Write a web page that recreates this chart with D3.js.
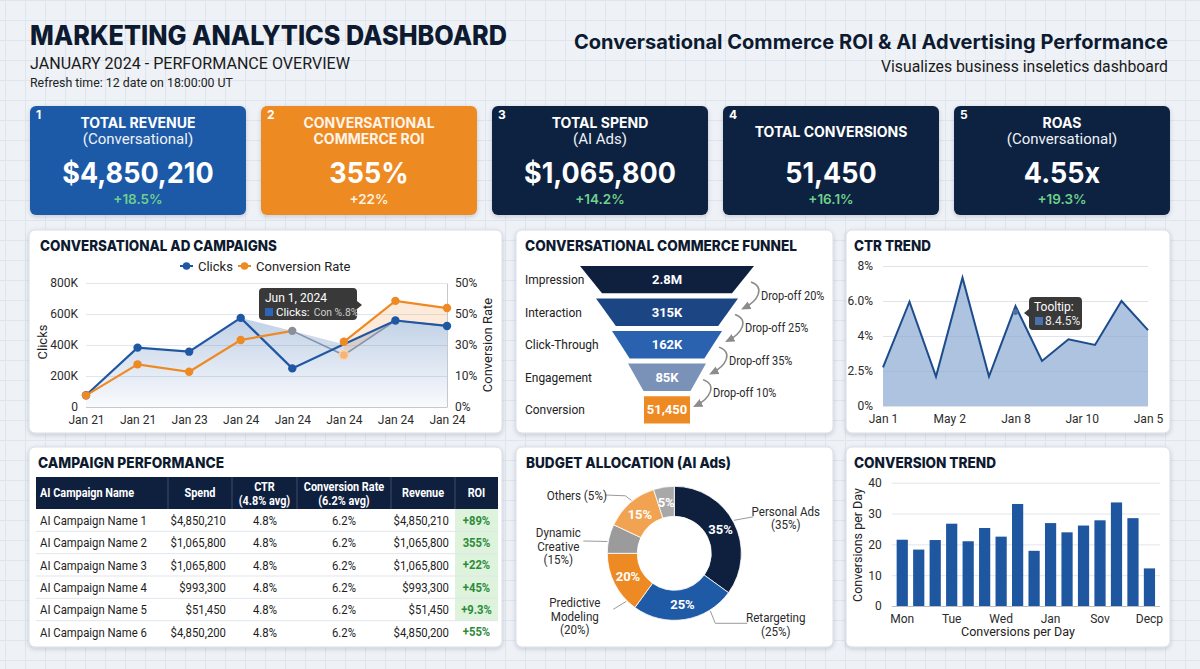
<!DOCTYPE html>
<html>
<head>
<meta charset="utf-8">
<title>Marketing Analytics Dashboard</title>
<script src="https://cdn.jsdelivr.net/npm/d3@7"></script>
<style>
  html, body { margin: 0; padding: 0; background: #eef2f7; }
  svg { display: block; }
</style>
</head>
<body>
<svg id="dashboard" width="1200" height="669"></svg>
<script>
// ---------- data ----------
var kpiTitles = [["TOTAL REVENUE"], ["CONVERSATIONAL", "COMMERCE ROI"], ["TOTAL SPEND"], ["TOTAL CONVERSIONS"], ["ROAS"]];
var kpiSubtitles = ["(Conversational)", "", "(AI Ads)", "", "(Conversational)"];
var kpiValues = ["$4,850,210", "355%", "$1,065,800", "51,450", "4.55x"];
var kpiChanges = ["+18.5%", "+22%", "+14.2%", "+16.1%", "+19.3%"];

var campaignDates = ["Jan 21", "Jan 21", "Jan 23", "Jan 24", "Jan 24", "Jan 24", "Jan 24", "Jan 24"];
var clicks = [76000, 383000, 357000, 575000, 249000, 405000, 558000, 523000];
var conversionRate = [4.7, 17.2, 14.2, 27.0, 30.7, 26.3, 42.8, 39.9];
var priorLine = [76000, 383000, 357000, 432000, 491000, 335000, 558000, 523000];
var clickTicks = [0, 200000, 400000, 600000, 800000];
var clickTickLabels = ["0", "200K", "400K", "600K", "800K"];
var rateTicks = [0, 12.5, 25, 37.5, 50];
var rateTickLabels = ["0%", "10%", "30%", "50%", "50%"];

var funnelStages = ["Impression", "Interaction", "Click-Through", "Engagement", "Conversion"];
var funnelValues = ["2.8M", "315K", "162K", "85K", "51,450"];
var dropOffs = ["Drop-off 20%", "Drop-off 25%", "Drop-off 35%", "Drop-off 10%"];

var ctrValues = [2.21, 5.96, 1.68, 7.33, 1.68, 5.71, 2.57, 3.81, 3.49, 6.0, 4.34];
var ctrTicks = [0, 2, 4, 6, 8];
var ctrTickLabels = ["0%", "2.5%", "4%", "6.0%", "8%"];
var ctrDateTicks = [0, 2.5, 5, 7.5, 10];
var ctrDateLabels = ["Jan 1", "May 2", "Jan 8", "Jar 10", "Jan 5"];

var tableHeaders = [["AI Campaign Name"], ["Spend"], ["CTR", "(4.8% avg)"], ["Conversion Rate", "(6.2% avg)"], ["Revenue"], ["ROI"]];
var campaignNames = ["AI Campaign Name 1", "AI Campaign Name 2", "AI Campaign Name 3", "AI Campaign Name 4", "AI Campaign Name 5", "AI Campaign Name 6"];
var campaignSpend = ["$4,850,210", "$1,065,800", "$1,065,800", "$993,300", "$51,450", "$4,850,200"];
var campaignCtr = ["4.8%", "4.8%", "4.8%", "4.8%", "4.8%", "4.8%"];
var campaignConv = ["6.2%", "6.2%", "6.2%", "6.2%", "6.2%", "6.2%"];
var campaignRevenue = ["$4,850,210", "$1,065,800", "$1,065,800", "$993,300", "$51,450", "$4,850,200"];
var campaignRoi = ["+89%", "355%", "+22%", "+45%", "+9.3%", "+55%"];

var budgetNames = ["Personal Ads", "Retargeting", "Predictive Modeling", "Dynamic Creative", "Others", ""];
var budgetShares = [35, 25, 15, 7, 13, 5];
var budgetSliceLabels = ["35%", "25%", "20%", "", "15%", "5%"];
var budgetCalloutPct = ["(35%)", "(25%)", "(20%)", "(15%)", "(5%)"];

var convDays = ["Mon", "", "", "Tue", "", "", "Wed", "", "", "Jan", "", "", "Sov", "", "", "Decp"];
var convPerDay = [21.5, 18.3, 21.4, 26.7, 21.0, 25.3, 22.5, 33.1, 17.9, 26.9, 23.9, 26.1, 27.8, 33.6, 28.5, 12.2];
var convTicks = [0, 10, 20, 30, 40];

// ---------- setup ----------
var svg = d3.select("#dashboard").attr("font-family", "Roboto, sans-serif");
var defs = svg.append("defs");

var grid = defs.append("pattern").attr("id", "bg-grid").attr("patternUnits", "userSpaceOnUse")
  .attr("width", 20).attr("height", 20).attr("x", 5).attr("y", 0);
grid.append("rect").attr("width", 20).attr("height", 20).attr("fill", "#eef2f7");
grid.append("path").attr("d", "M0.5 20 V0.5 H20").attr("fill", "none").attr("stroke", "#dfe5ed");
svg.append("rect").attr("width", 1200).attr("height", 669).attr("fill", "url(#bg-grid)");

var shadow = defs.append("filter").attr("id", "shadow")
  .attr("x", "-10%").attr("y", "-10%").attr("width", "120%").attr("height", "130%");
shadow.append("feDropShadow").attr("dx", 0).attr("dy", 1.5).attr("stdDeviation", 2)
  .attr("flood-color", "#1b2b45").attr("flood-opacity", 0.2);

var arrowHead = defs.append("marker").attr("id", "arrow").attr("viewBox", "0 0 10 10")
  .attr("refX", 7).attr("refY", 5).attr("markerWidth", 7).attr("markerHeight", 7).attr("orient", "auto");
arrowHead.append("path").attr("d", "M0,1 L9,5 L0,9 z").attr("fill", "#8c8c8c");

function heading(x, y, txt, size, width, anchor) {
  return svg.append("text").attr("x", x).attr("y", y).attr("text-anchor", anchor || "start")
    .attr("font-family", "Inter, sans-serif").attr("font-weight", 800).attr("font-size", size)
    .attr("fill", "#0d1a2f").attr("textLength", width).attr("lengthAdjust", "spacingAndGlyphs").text(txt);
}

// squeeze text horizontally, the reference uses a narrow face
function condense(sel, k) {
  sel.each(function () {
    var w = this.getComputedTextLength();
    if (w > 0) d3.select(this).attr("textLength", w * k).attr("lengthAdjust", "spacingAndGlyphs");
  });
  return sel;
}

function styleAxis(g) {
  g.attr("font-family", "Roboto, sans-serif").attr("font-size", 12);
  g.selectAll("text").attr("fill", "#2b2b2b");
}

// ---------- header ----------
heading(30, 45, "MARKETING ANALYTICS DASHBOARD", 27, 477);
svg.append("text").attr("x", 30).attr("y", 69).attr("font-size", 17).attr("fill", "#1a1a1a")
  .attr("textLength", 320).attr("lengthAdjust", "spacingAndGlyphs").text("JANUARY 2024 - PERFORMANCE OVERVIEW");
svg.append("text").attr("x", 30).attr("y", 87).attr("font-size", 13.5).attr("fill", "#222")
  .attr("textLength", 203).attr("lengthAdjust", "spacingAndGlyphs").text("Refresh time: 12 date on 18:00:00 UT");
heading(1168, 49, "Conversational Commerce ROI & AI Advertising Performance", 20, 594, "end").attr("font-weight", 700);
svg.append("text").attr("x", 1168).attr("y", 72).attr("text-anchor", "end").attr("font-size", 16).attr("fill", "#1a1a1a")
  .attr("textLength", 287).attr("lengthAdjust", "spacingAndGlyphs").text("Visualizes business inseletics dashboard");

// ---------- KPI cards ----------
var cardX = d3.scaleBand().domain(d3.range(kpiValues.length)).range([30, 1170]).paddingInner(0.065);
var cardFill = ["#1d5aa7", "#ee8a24", "#0f203f", "#0f203f", "#0f203f"];
var cards = svg.selectAll("g.kpi").data(kpiValues).join("g").attr("class", "kpi")
  .attr("transform", function (d, i) { return "translate(" + cardX(i) + ",106)"; });
cards.append("rect").attr("width", cardX.bandwidth()).attr("height", 109).attr("rx", 6)
  .attr("fill", function (d, i) { return cardFill[i]; }).attr("filter", "url(#shadow)");
cards.append("text").attr("x", 6).attr("y", 13).attr("font-family", "Inter, sans-serif").attr("font-weight", 700)
  .attr("font-size", 12).attr("fill", "#fff").text(function (d, i) { return i + 1; });
cards.each(function (d, i) {
  var g = d3.select(this), cx = cardX.bandwidth() / 2;
  var lines = kpiTitles[i];
  var single = lines.length === 1 && !kpiSubtitles[i];
  lines.forEach(function (t, j) {
    g.append("text").attr("x", cx).attr("y", single ? 30.5 : 22 + j * 16).attr("text-anchor", "middle")
      .attr("font-family", "Inter, sans-serif").attr("font-weight", 700).attr("font-size", 14)
      .attr("fill", i === 1 ? "#fff4e8" : "#fff").text(t);
  });
  if (kpiSubtitles[i]) {
    g.append("text").attr("x", cx).attr("y", 38).attr("text-anchor", "middle").attr("font-size", 15)
      .attr("fill", "#eef2f8").text(kpiSubtitles[i]);
  }
  g.append("text").attr("x", cx).attr("y", 77).attr("text-anchor", "middle")
    .attr("font-family", "Inter, sans-serif").attr("font-weight", 700).attr("font-size", 29)
    .attr("fill", "#fff").text(d).call(condense, 0.93);
  g.append("text").attr("x", cx).attr("y", 98).attr("text-anchor", "middle")
    .attr("font-family", "Inter, sans-serif").attr("font-weight", 600).attr("font-size", 13.5)
    .attr("fill", i === 1 ? "#fff0de" : "#6fd08c").text(kpiChanges[i]);
});

// ---------- panels ----------
var panelBoxes = [[29, 230, 473, 203], [516, 230, 317, 203], [846, 230, 324, 203],
                  [29, 447, 473, 200], [516, 447, 317, 200], [846, 447, 324, 200]];
svg.selectAll("rect.panel").data(panelBoxes).join("rect").attr("class", "panel")
  .attr("x", function (d) { return d[0]; }).attr("y", function (d) { return d[1]; })
  .attr("width", function (d) { return d[2]; }).attr("height", function (d) { return d[3]; })
  .attr("rx", 6).attr("fill", "#fff").attr("stroke", "#d8dde5").attr("filter", "url(#shadow)");

heading(40, 251, "CONVERSATIONAL AD CAMPAIGNS", 15, 237);
heading(525, 251, "CONVERSATIONAL COMMERCE FUNNEL", 15, 272);
heading(854, 251, "CTR TREND", 15, 77);
heading(38, 468, "CAMPAIGN PERFORMANCE", 15, 186);
heading(526, 468, "BUDGET ALLOCATION (AI Ads)", 15, 205);
heading(854, 468, "CONVERSION TREND", 15, 142);

// ---------- conversational ad campaigns ----------
var gA = svg.append("g");
var xA = d3.scalePoint().domain(d3.range(campaignDates.length)).range([86, 447]);
var yClicks = d3.scaleLinear().domain([0, 800000]).range([407, 283]);
var yRate = d3.scaleLinear().domain([0, 50]).range([407, 283]);
var blue = "#1f57a3", orange = "#ee8a24";

gA.append("g").attr("transform", "translate(86,0)")
  .call(d3.axisLeft(yClicks).tickValues(clickTicks).tickFormat(function (d, i) { return clickTickLabels[i]; })
    .tickSize(-(447 - 86)).tickPadding(8))
  .call(function (g) { g.select(".domain").remove(); })
  .call(function (g) { g.selectAll(".tick line").attr("stroke", function (d) { return d === 0 ? "#c4c9d0" : "#e3e6eb"; }); })
  .call(styleAxis);
gA.append("g").attr("transform", "translate(447,0)")
  .call(d3.axisRight(yRate).tickValues(rateTicks).tickFormat(function (d, i) { return rateTickLabels[i]; })
    .tickSize(0).tickPadding(8))
  .call(function (g) { g.select(".domain").attr("stroke", "#c4c9d0"); })
  .call(styleAxis);
gA.append("g").attr("transform", "translate(0,407)")
  .call(d3.axisBottom(xA).tickFormat(function (i) { return campaignDates[i]; }).tickSize(0).tickPadding(8))
  .call(function (g) { g.select(".domain").remove(); })
  .call(styleAxis);

var gradA = defs.append("linearGradient").attr("id", "clicks-fill").attr("gradientUnits", "userSpaceOnUse")
  .attr("x1", 0).attr("y1", 283).attr("x2", 0).attr("y2", 407);
gradA.append("stop").attr("offset", 0).attr("stop-color", "#2d62ab").attr("stop-opacity", 0.4);
gradA.append("stop").attr("offset", 1).attr("stop-color", "#2d62ab").attr("stop-opacity", 0.03);

var envelope = clicks.map(function (c, i) { return Math.max(c, priorLine[i]); });
gA.append("path").datum(envelope).attr("fill", "url(#clicks-fill)")
  .attr("d", d3.area().x(function (d, i) { return xA(i); }).y0(yClicks(0)).y1(function (d) { return yClicks(d); }));

var lateIdx = d3.range(5, 8);
gA.append("path").datum(lateIdx).attr("fill", "#f0a35c").attr("fill-opacity", 0.22)
  .attr("d", d3.area().x(function (i) { return xA(i); })
    .y0(function (i) { return yClicks(priorLine[i]); }).y1(function (i) { return yRate(conversionRate[i]); }));

gA.append("path").datum(d3.range(4, 8)).attr("fill", "none").attr("stroke", "#8493aa").attr("stroke-width", 1.6)
  .attr("d", d3.line().x(function (i) { return xA(i); }).y(function (i) { return yClicks(priorLine[i]); }));

gA.append("path").datum(clicks).attr("fill", "none").attr("stroke", blue).attr("stroke-width", 2.2)
  .attr("d", d3.line().x(function (d, i) { return xA(i); }).y(function (d) { return yClicks(d); }));

var rateLine = d3.line().x(function (i) { return xA(i); }).y(function (i) { return yRate(conversionRate[i]); });
[d3.range(0, 5), d3.range(5, 8)].forEach(function (seg) {
  gA.append("path").datum(seg).attr("fill", "none").attr("stroke", orange).attr("stroke-width", 2.2).attr("d", rateLine);
});

gA.selectAll("circle.clk").data(clicks).join("circle").attr("class", "clk")
  .attr("cx", function (d, i) { return xA(i); }).attr("cy", function (d) { return yClicks(d); })
  .attr("r", function (d, i) { return i === 5 ? 0 : 4.2; }).attr("fill", blue);
gA.append("circle").attr("cx", xA(5)).attr("cy", yClicks(priorLine[5])).attr("r", 4.5)
  .attr("fill", "#f6b47a").attr("stroke", "#fbd4b0").attr("stroke-width", 1.5);
gA.selectAll("circle.rate").data(conversionRate).join("circle").attr("class", "rate")
  .attr("cx", function (d, i) { return xA(i); }).attr("cy", function (d) { return yRate(d); })
  .attr("r", 4.2).attr("fill", function (d, i) { return i === 4 ? "#8a8e96" : orange; });

// legend
var legend = gA.append("g").attr("transform", "translate(0,266)");
[[180, blue, "Clicks"], [238, orange, "Conversion Rate"]].forEach(function (l) {
  legend.append("line").attr("x1", l[0]).attr("x2", l[0] + 13).attr("stroke", l[1]).attr("stroke-width", 2);
  legend.append("circle").attr("cx", l[0] + 6.5).attr("r", 3.8).attr("fill", l[1]);
  legend.append("text").attr("x", l[0] + 18).attr("dy", "0.35em").attr("font-size", 13).attr("fill", "#222").text(l[2]);
});

gA.append("text").attr("transform", "translate(47,342) rotate(-90)").attr("text-anchor", "middle")
  .attr("font-size", 13).attr("fill", "#222").text("Clicks");
gA.append("text").attr("transform", "translate(492,345) rotate(-90)").attr("text-anchor", "middle")
  .attr("font-size", 13).attr("fill", "#222").text("Conversion Rate");

// tooltip
var tipA = gA.append("g").attr("transform", "translate(259,288)");
tipA.append("path").attr("d", "M4,0 H94 Q98,0 98,4 V13 L103,17 L98,21 V28 Q98,32 94,32 H4 Q0,32 0,28 V4 Q0,0 4,0 Z")
  .attr("fill", "#2a2a2a").attr("fill-opacity", 0.93);
tipA.append("text").attr("x", 6).attr("y", 13.5).attr("font-size", 12).attr("fill", "#fff").text("Jun 1, 2024");
tipA.append("rect").attr("x", 6).attr("y", 20).attr("width", 8).attr("height", 8).attr("fill", "#2d66b8");
var tipKey = tipA.append("text").attr("x", 17).attr("y", 28).attr("font-size", 11.5).attr("fill", "#fff")
  .text("Clicks:");
var keyW = tipKey.node().getComputedTextLength();
tipA.append("text").attr("x", 17 + keyW + 4).attr("y", 28).attr("font-size", 11.5).attr("fill", "#cfcfcf")
  .text("Con %.8%").call(condense, 0.9);

// ---------- funnel ----------
var gF = svg.append("g");
var yF = d3.scaleBand().domain(funnelStages).range([266, 423.5]).paddingInner(0.16);
var topW = d3.scaleLinear().domain([0, funnelStages.length - 1]).range([174, 46]);
var botW = d3.scaleLinear().domain([0, funnelStages.length - 2]).range([130, 47]);
var fcx = 667;
var funnelFill = ["#0f203f", "#1c4584", "#2a62af", "#7a92b7", "#ee8a24"];
funnelStages.forEach(function (s, i) {
  var y0 = yF(s), h = yF.bandwidth(), tw = topW(i) / 2;
  var bw = i < funnelStages.length - 1 ? botW(i) / 2 : tw;
  gF.append("path").attr("d", "M" + (fcx - tw) + "," + y0 + "H" + (fcx + tw) + "L" + (fcx + bw) + "," + (y0 + h) + "H" + (fcx - bw) + "Z")
    .attr("fill", funnelFill[i]);
  gF.append("text").attr("x", fcx).attr("y", y0 + h / 2).attr("dy", "0.35em").attr("text-anchor", "middle")
    .attr("font-weight", 700).attr("font-size", 13).attr("fill", "#fff").text(funnelValues[i]);
  gF.append("text").attr("x", 525).attr("y", y0 + h / 2).attr("dy", "0.35em")
    .attr("font-size", 13).attr("fill", "#222").text(s).call(condense, 0.92);
});
dropOffs.forEach(function (t, i) {
  var sx = fcx + topW(i) / 2 - 3, sy = yF(funnelStages[i]) + 16;
  var ex = fcx + topW(i + 1) / 2 + 5, ey = yF(funnelStages[i + 1]) + 10;
  gF.append("path").attr("d", "M" + sx + "," + sy + " C" + (sx + 14) + "," + (sy + 5) + " " + (ex + 16) + "," + (ey - 8) + " " + ex + "," + ey)
    .attr("fill", "none").attr("stroke", "#8c8c8c").attr("stroke-width", 1.5).attr("marker-end", "url(#arrow)");
  gF.append("text").attr("x", sx + 10).attr("y", (sy + ey) / 2).attr("dy", "0.35em")
    .attr("font-size", 12.5).attr("fill", "#2b2b2b").text(t).call(condense, 0.88);
});

// ---------- CTR trend ----------
var gC = svg.append("g");
var xC = d3.scaleLinear().domain([0, ctrValues.length - 1]).range([883, 1148]);
var yC = d3.scaleLinear().domain([0, 8]).range([406, 266]);
gC.append("g").attr("transform", "translate(883,0)")
  .call(d3.axisLeft(yC).tickValues(ctrTicks).tickFormat(function (d, i) { return ctrTickLabels[i]; })
    .tickSize(-(1148 - 883)).tickPadding(10))
  .call(function (g) { g.select(".domain").remove(); })
  .call(function (g) { g.selectAll(".tick line").attr("stroke", "#e0e3e8"); })
  .call(styleAxis);
gC.append("g").attr("transform", "translate(0,406)")
  .call(d3.axisBottom(xC).tickValues(ctrDateTicks).tickFormat(function (d, i) { return ctrDateLabels[i]; })
    .tickSize(0).tickPadding(8))
  .call(function (g) { g.select(".domain").remove(); })
  .call(styleAxis);
gC.append("path").datum(ctrValues).attr("fill", "#8dacd3").attr("fill-opacity", 0.72)
  .attr("d", d3.area().x(function (d, i) { return xC(i); }).y0(yC(0)).y1(function (d) { return yC(d); }));
gC.append("path").datum(ctrValues).attr("fill", "none").attr("stroke", "#1d4c8c").attr("stroke-width", 2)
  .attr("d", d3.line().x(function (d, i) { return xC(i); }).y(function (d) { return yC(d); }));
gC.append("circle").attr("cx", xC(5)).attr("cy", yC(ctrValues[5]) + 6).attr("r", 2.8).attr("fill", "#4f6f99");

var tipC = gC.append("g").attr("transform", "translate(1029,297)");
tipC.append("path").attr("d", "M4,0 H49 Q53,0 53,4 V29 Q53,33 49,33 H4 Q0,33 0,29 V20 L-5,16 L0,12 V4 Q0,0 4,0 Z")
  .attr("fill", "#2a2a2a").attr("fill-opacity", 0.93);
tipC.append("text").attr("x", 5).attr("y", 13.5).attr("font-size", 12).attr("fill", "#fff").text("Tooltip:");
tipC.append("rect").attr("x", 6).attr("y", 20).attr("width", 8).attr("height", 8).attr("fill", "#4a72a8");
tipC.append("text").attr("x", 16).attr("y", 28).attr("font-size", 12).attr("fill", "#e8e8e8").text("8.4.5%");

// ---------- campaign performance table ----------
var gT = svg.append("g");
var colEdges = [36, 168, 232, 297, 391, 455, 498];
var yRow = d3.scaleBand().domain(d3.range(campaignNames.length)).range([509, 643]);
gT.append("rect").attr("x", colEdges[0]).attr("y", 477).attr("width", colEdges[6] - colEdges[0]).attr("height", 32).attr("fill", "#0f203f");
colEdges.slice(1, 6).forEach(function (x) {
  gT.append("line").attr("x1", x).attr("x2", x).attr("y1", 477).attr("y2", 509).attr("stroke", "#3d4c66");
});
tableHeaders.forEach(function (lines, c) {
  var mid = (colEdges[c] + colEdges[c + 1]) / 2;
  lines.forEach(function (t, j) {
    gT.append("text").attr("x", c === 0 ? 40 : mid)
      .attr("y", lines.length === 1 ? 493 : 487 + j * 14).attr("dy", "0.35em")
      .attr("text-anchor", c === 0 ? "start" : "middle")
      .attr("font-weight", 700).attr("font-size", 12.5).attr("fill", "#fff").text(t).call(condense, 0.87);
  });
});
gT.append("rect").attr("x", colEdges[5]).attr("y", yRow(0)).attr("width", colEdges[6] - colEdges[5])
  .attr("height", yRow(4) + yRow.bandwidth() - yRow(0)).attr("fill", "#ddf3dc");
campaignNames.forEach(function (name, r) {
  var yc = yRow(r) + yRow.bandwidth() / 2;
  if (r < campaignNames.length - 1) {
    gT.append("line").attr("x1", colEdges[0]).attr("x2", colEdges[6]).attr("y1", yRow(r) + yRow.bandwidth())
      .attr("y2", yRow(r) + yRow.bandwidth()).attr("stroke", "#e2e5ea");
  }
  var cells = [
    [40, "start", name], [226, "end", campaignSpend[r]], [265, "middle", campaignCtr[r]],
    [344, "middle", campaignConv[r]], [449, "end", campaignRevenue[r]]
  ];
  cells.forEach(function (c) {
    gT.append("text").attr("x", c[0]).attr("y", yc).attr("dy", "0.35em").attr("text-anchor", c[1])
      .attr("font-size", 13.5).attr("fill", "#1e1e1e").text(c[2]).call(condense, 0.84);
  });
  gT.append("text").attr("x", (colEdges[5] + colEdges[6]) / 2).attr("y", yc).attr("dy", "0.35em")
    .attr("text-anchor", "middle").attr("font-weight", 700).attr("font-size", 12.5).attr("fill", "#2f8a3c")
    .text(campaignRoi[r]).call(condense, 0.9);
});

// ---------- budget allocation donut ----------
var gD = svg.append("g").attr("transform", "translate(674.3,553.3)");
var budgetFill = ["#0f203f", "#1f5aa6", "#ee8a24", "#9b9b9b", "#f2a352", "#a8a8a8"];
var pieData = d3.pie().sort(null).value(function (d) { return d; })(budgetShares);
var arc = d3.arc().innerRadius(37).outerRadius(67);
gD.selectAll("path.slice").data(pieData).join("path").attr("class", "slice")
  .attr("d", arc).attr("fill", function (d, i) { return budgetFill[i]; })
  .attr("stroke", "#fff").attr("stroke-width", 0.8);
gD.selectAll("text.pct").data(pieData).join("text").attr("class", "pct")
  .attr("transform", function (d) { return "translate(" + arc.centroid(d) + ")"; })
  .attr("dy", "0.35em").attr("text-anchor", "middle").attr("font-weight", 700).attr("font-size", 13)
  .attr("fill", "#fff").text(function (d, i) { return budgetSliceLabels[i]; });

var calloutLayout = [
  { a: 61, pts: [[79, -36.5]], tx: 111.5, ty: -37.5, wrap: false },
  { a: 148, pts: [[41, 70], [73, 70]], tx: 101.5, ty: 69, wrap: false },
  { a: 225, pts: [[-61, 56]], tx: -99.5, ty: 54, wrap: true },
  { a: 280, pts: [[-91, -12.3]], tx: -116, ty: -16, wrap: true },
  { a: 321, pts: [[-49, -57.5], [-69, -58.3]], tx: -97.5, ty: -53.5, wrap: "inline" }
];
calloutLayout.forEach(function (c, i) {
  var rad = c.a * Math.PI / 180;
  var start = [68 * Math.sin(rad), -68 * Math.cos(rad)];
  gD.append("path").attr("d", d3.line()([start].concat(c.pts))).attr("fill", "none")
    .attr("stroke", "#9a9a9a").attr("stroke-width", 1);
  var lines = c.wrap === "inline" ? [budgetNames[i] + " " + budgetCalloutPct[i]]
    : c.wrap ? budgetNames[i].split(" ").concat([budgetCalloutPct[i]])
    : [budgetNames[i], budgetCalloutPct[i]];
  lines.forEach(function (t, j) {
    gD.append("text").attr("x", c.tx).attr("y", c.ty + j * 13.4).attr("text-anchor", "middle")
      .attr("font-size", 12.5).attr("fill", "#2b2b2b").text(t).call(condense, 0.93);
  });
});

// ---------- conversion trend ----------
var gV = svg.append("g");
var xV = d3.scaleBand().domain(d3.range(convPerDay.length)).range([891.7, 1160]).paddingInner(0.32).paddingOuter(0.3);
var yV = d3.scaleLinear().domain([0, 40]).range([606, 482.7]);
gV.append("g").attr("transform", "translate(891.7,0)")
  .call(d3.axisLeft(yV).tickValues(convTicks).tickSize(-(1160 - 891.7)).tickPadding(10))
  .call(function (g) { g.select(".domain").remove(); })
  .call(function (g) { g.selectAll(".tick line").attr("stroke", function (d) { return d === 0 ? "#b9bec6" : "#e3e6eb"; }); })
  .call(styleAxis);
gV.selectAll("rect.bar").data(convPerDay).join("rect").attr("class", "bar")
  .attr("x", function (d, i) { return xV(i); }).attr("width", xV.bandwidth())
  .attr("y", function (d) { return yV(d); }).attr("height", function (d) { return yV(0) - yV(d); })
  .attr("fill", "#1e56a0");
gV.append("g").attr("transform", "translate(0,606)")
  .call(d3.axisBottom(xV).tickValues(d3.range(0, convPerDay.length, 3))
    .tickFormat(function (i) { return convDays[i]; }).tickSize(0).tickPadding(8))
  .call(function (g) { g.select(".domain").remove(); })
  .call(styleAxis);
gV.append("text").attr("transform", "translate(862,545) rotate(-90)").attr("text-anchor", "middle")
  .attr("font-size", 12.5).attr("fill", "#222").text("Conversions per Day");
gV.append("text").attr("x", 1018).attr("y", 636).attr("text-anchor", "middle")
  .attr("font-size", 12.5).attr("fill", "#222").text("Conversions per Day");
</script>
</body>
</html>
